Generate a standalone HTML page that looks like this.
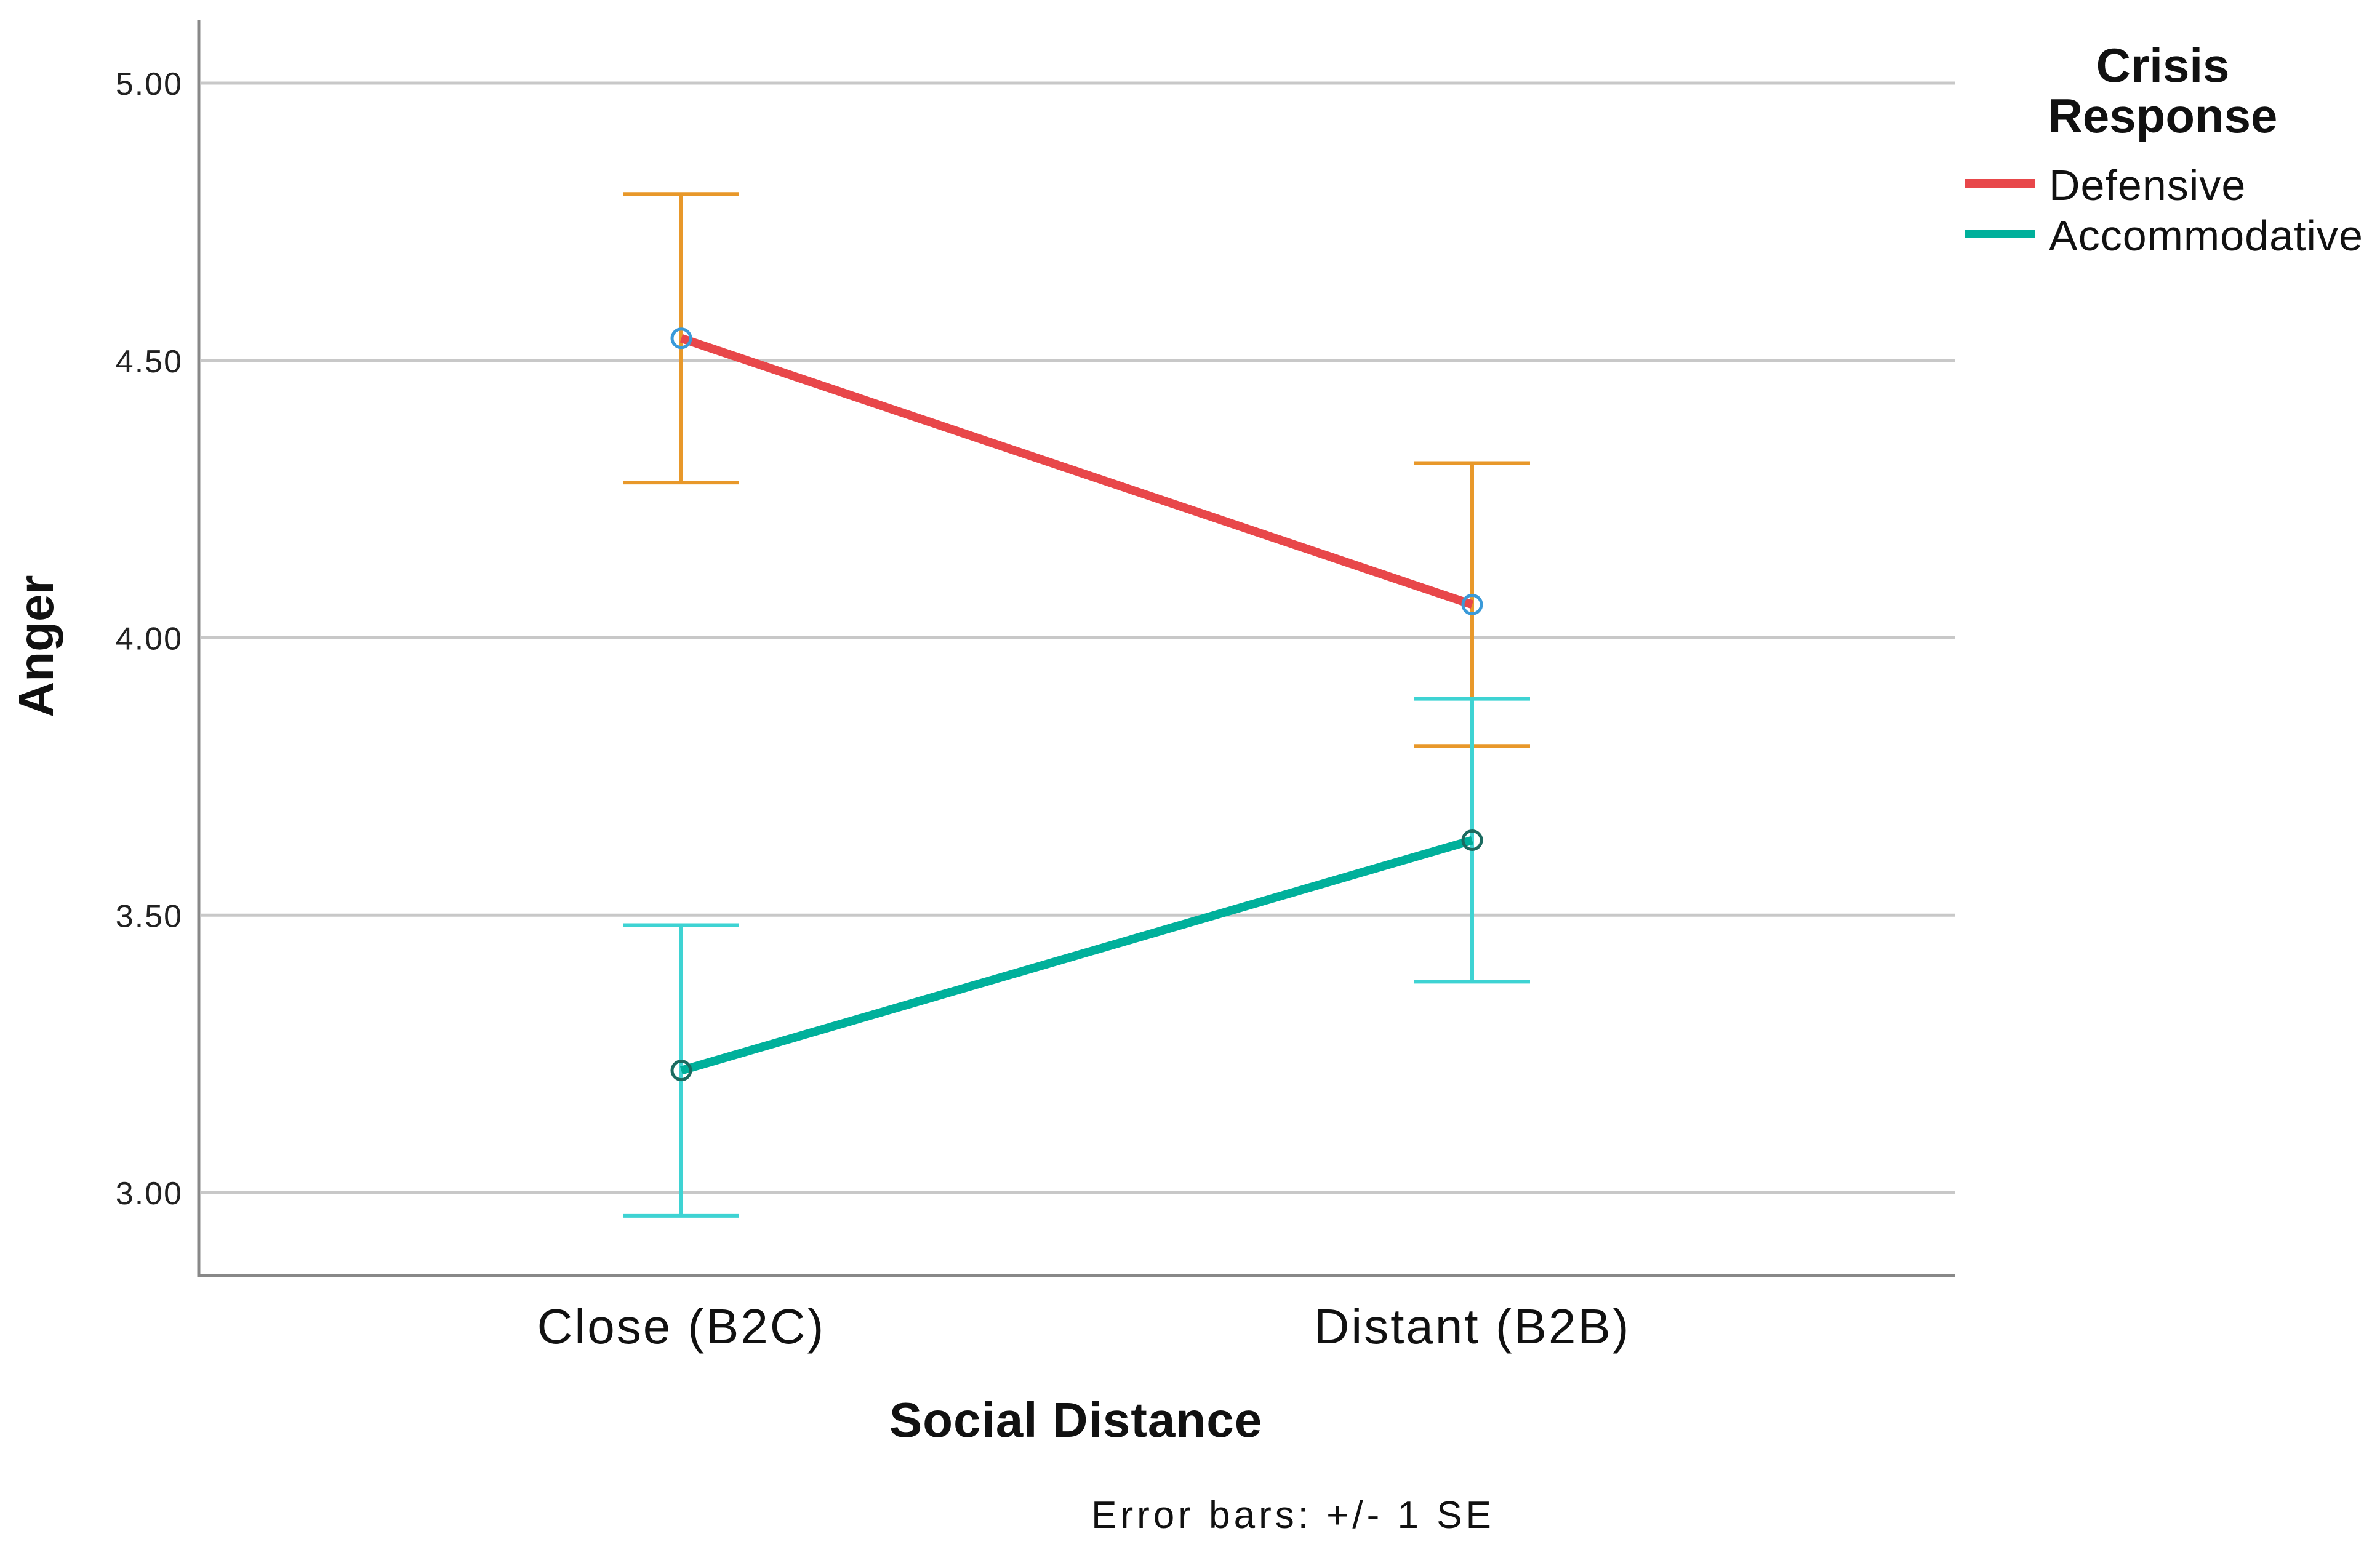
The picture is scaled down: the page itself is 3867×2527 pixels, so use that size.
<!DOCTYPE html>
<html><head><meta charset="utf-8"><style>
html,body{margin:0;padding:0;background:#fff;}
svg{display:block;font-family:"Liberation Sans","DejaVu Sans",sans-serif;}
</style></head><body>
<svg id="chart" width="3867" height="2527" viewBox="0 0 3867 2527" xmlns="http://www.w3.org/2000/svg">
<rect x="0" y="0" width="3867" height="2527" fill="#fff"/>
<g id="grid"></g>
<g id="yticks"></g>
<line x1="323" y1="33" x2="323" y2="2075" stroke="#888" stroke-width="5"/>
<line x1="321" y1="2073" x2="3176" y2="2073" stroke="#888" stroke-width="5"/>
<g id="xticks"></g>
<g id="series"></g>
<text x="0" y="0" transform="translate(86,1050) rotate(-90)" text-anchor="middle" font-size="80" font-weight="bold" fill="#111">Anger</text>
<text x="1748" y="2335" text-anchor="middle" font-size="80" font-weight="bold" fill="#111" letter-spacing="1">Social Distance</text>
<text x="2101" y="2483" text-anchor="middle" font-size="62" fill="#111" letter-spacing="6">Error bars: +/- 1 SE</text>
<g>
<text x="3514" y="133" text-anchor="middle" font-size="78" font-weight="bold" fill="#111">Crisis</text>
<text x="3514" y="215" text-anchor="middle" font-size="78" font-weight="bold" fill="#111">Response</text>
<line x1="3193" y1="298" x2="3307" y2="298" stroke="#e8474a" stroke-width="14"/>
<text x="3329" y="325" font-size="70" fill="#111" letter-spacing="1">Defensive</text>
<line x1="3193" y1="380" x2="3307" y2="380" stroke="#00b09b" stroke-width="14"/>
<text x="3329" y="407" font-size="70" fill="#111" letter-spacing="1">Accommodative</text>
</g>
</svg>
<script>
const categories = ["Close (B2C)", "Distant (B2B)"];
const seriesNames = ["Defensive", "Accommodative"];
const defensiveMeans = [4.54, 4.06];
const defensiveSE = [0.26, 0.255];
const accommodativeMeans = [3.22, 3.635];
const accommodativeSE = [0.262, 0.255];
const yTicks = [3.00, 3.50, 4.00, 4.50, 5.00];
const yTickLabels = ["3.00", "3.50", "4.00", "4.50", "5.00"];

const NS = "http://www.w3.org/2000/svg";
const y = v => 1938 - (v - 3) * 901.5;
const xCenters = [1107, 2392];
const x = i => xCenters[0] + i * (xCenters[1] - xCenters[0]);
function mk(tag, attrs, parent){const e=document.createElementNS(NS,tag);for(const k in attrs)e.setAttribute(k,attrs[k]);parent.appendChild(e);return e;}

const grid = document.getElementById('grid');
const yt = document.getElementById('yticks');
yTicks.forEach((v,i)=>{
  const l = mk('line',{x1:326,x2:3176,y1:y(v),y2:y(v),stroke:'#c8c8c8','stroke-width':5},grid);
  
  
  const t = mk('text',{x:297,y:y(v)+19,'text-anchor':'end','font-size':52,fill:'#222','letter-spacing':2},yt);
  t.textContent = yTickLabels[i];
  
  
});
const xt = document.getElementById('xticks');
categories.forEach((c,i)=>{
  const t = mk('text',{x:x(i),y:2183,'text-anchor':'middle','font-size':80,fill:'#111','letter-spacing':3},xt);
  t.textContent = c;
  
  
});

const sg = document.getElementById('series');
const defs = [
  {name:'defensive', means:defensiveMeans, se:defensiveSE, line:'#e8474a', err:'#e8982a', marker:'#3a9ad9'},
  {name:'accommodative', means:accommodativeMeans, se:accommodativeSE, line:'#00b09b', err:'#3ed3d3', marker:'#1b6b60'}
];
defs.forEach(s=>{
  s.means.forEach((m,i)=>{
    const g = mk('g',{},sg);
    
    
    const hi=y(m+s.se[i]), lo=y(m-s.se[i]), cx=x(i);
    mk('line',{x1:cx,x2:cx,y1:hi,y2:lo,stroke:s.err,'stroke-width':6},g);
    mk('line',{x1:cx-94,x2:cx+94,y1:hi,y2:hi,stroke:s.err,'stroke-width':6},g);
    mk('line',{x1:cx-94,x2:cx+94,y1:lo,y2:lo,stroke:s.err,'stroke-width':6},g);
  });
});
defs.forEach(s=>{
  const pl = mk('polyline',{points:s.means.map((m,i)=>x(i)+','+y(m)).join(' '),fill:'none',stroke:s.line,'stroke-width':14},sg);
  
  
  s.means.forEach((m,i)=>{
    const c = mk('circle',{cx:x(i),cy:y(m),r:15,fill:'none',stroke:s.marker,'stroke-width':5},sg);
    
    
  });
});
</script>
</body></html>
